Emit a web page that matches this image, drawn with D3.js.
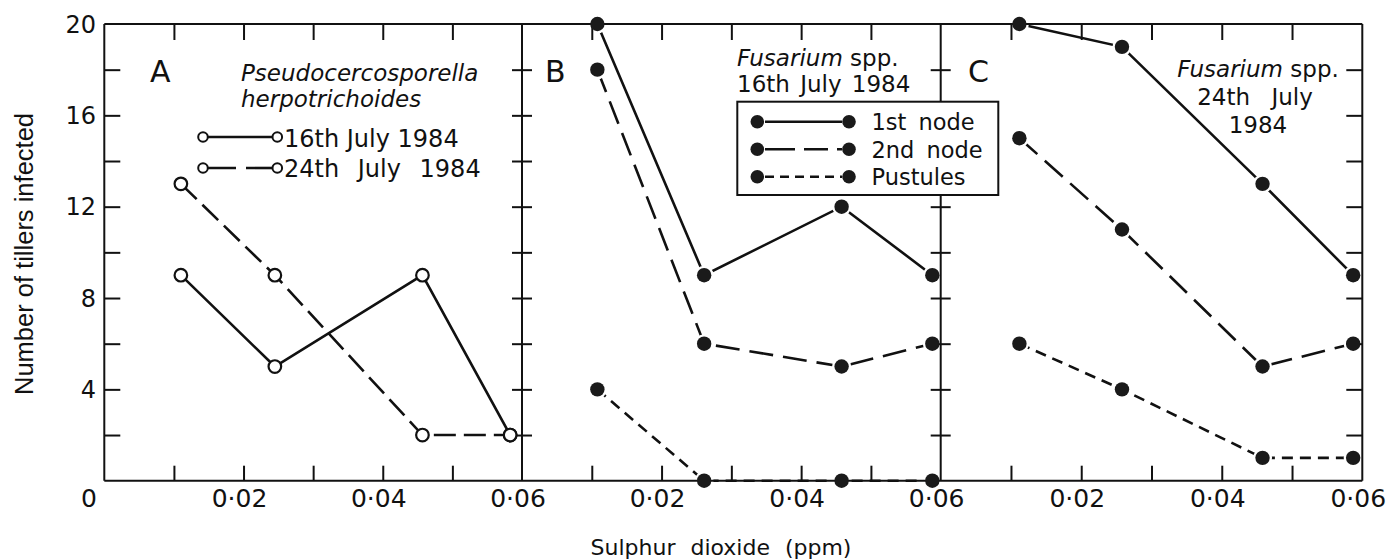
<!DOCTYPE html>
<html>
<head>
<meta charset="utf-8">
<script src="https://cdn.jsdelivr.net/npm/d3@7"></script>
<style>
  html, body { margin: 0; padding: 0; background: #fff; }
  svg { display: block; }
  text { font-family: "DejaVu Sans", sans-serif; fill: #111; }
</style>
</head>
<body>
<svg id="chart" width="1389" height="560"></svg>
<script>
// ---------------- DATA ----------------
const panelLetters = ["A", "B", "C"];
const xTickLabels = ["0·02", "0·04", "0·06"];
const xTickLabelValues = [0.02, 0.04, 0.06];
const yTickLabels = ["4", "8", "12", "16", "20"];
const yTickLabelValues = [4, 8, 12, 16, 20];
const yTickValues = [2, 4, 6, 8, 10, 12, 14, 16, 18];
const xTickValues = [0.01, 0.02, 0.03, 0.04, 0.05];

// Panel A: Pseudocercosporella herpotrichoides
const doseA = [0.011, 0.0245, 0.0457, 0.0583];
const pseudo16July = [9, 5, 9, 2];
const pseudo24July = [13, 9, 2, 2];

// Panel B: Fusarium spp. 16th July 1984
const doseB = [0.0108, 0.0261, 0.0458, 0.0588];
const fusB_1stNode = [20, 9, 12, 9];
const fusB_2ndNode = [18, 6, 5, 6];
const fusB_pustules = [4, 0, 0, 0];

// Panel C: Fusarium spp. 24th July 1984
const doseC = [0.0112, 0.0258, 0.0458, 0.0587];
const fusC_1stNode = [20, 19, 13, 9];
const fusC_2ndNode = [15, 11, 5, 6];
const fusC_pustules = [6, 4, 1, 1];

// ---------------- LAYOUT ----------------
const svg = d3.select("#chart");
const yTop = 24, yBottom = 480.7;
const panelRanges = [[104.3, 522], [522, 940.7], [940.7, 1362.3]];
const y = d3.scaleLinear().domain([0, 20]).range([yBottom, yTop]);
const xs = panelRanges.map(r => d3.scaleLinear().domain([0, 0.06]).range(r));

const LW = 2.6;
const dashLongA = "22,8";
const dashLong = "24,10";
const dashShort = "11,7";

svg.append("rect").attr("width", 1389).attr("height", 560).attr("fill", "#fff");

const gLines = svg.append("g");
const gHalo = svg.append("g");
const gFrame = svg.append("g");
const gMarks = svg.append("g");
const gText = svg.append("g");

function series(xScale, xs_, ys_, dash) {
  const pts = xs_.map((d, i) => [d, ys_[i]]);
  const line = d3.line().x(d => xScale(d[0])).y(d => y(d[1]));
  gLines.append("path").attr("d", line(pts))
    .attr("fill", "none").attr("stroke", "#111").attr("stroke-width", LW)
    .attr("stroke-dasharray", dash || null);
  return pts;
}
function openMarks(xScale, pts) {
  gMarks.selectAll(null).data(pts).enter().append("circle")
    .attr("cx", d => xScale(d[0])).attr("cy", d => y(d[1])).attr("r", 6.3)
    .attr("fill", "#fff").attr("stroke", "#111").attr("stroke-width", 2.2);
}
function filledMarks(xScale, pts) {
  gHalo.selectAll(null).data(pts).enter().append("circle")
    .attr("cx", d => xScale(d[0])).attr("cy", d => y(d[1])).attr("r", 9.5)
    .attr("fill", "#fff");
  gMarks.selectAll(null).data(pts).enter().append("circle")
    .attr("cx", d => xScale(d[0])).attr("cy", d => y(d[1])).attr("r", 7.2)
    .attr("fill", "#1a1a1a");
}

// Panel A
openMarks(xs[0], series(xs[0], doseA, pseudo16July, null));
openMarks(xs[0], series(xs[0], doseA, pseudo24July, dashLongA));
// Panel B
filledMarks(xs[1], series(xs[1], doseB, fusB_1stNode, null));
filledMarks(xs[1], series(xs[1], doseB, fusB_2ndNode, dashLong));
filledMarks(xs[1], series(xs[1], doseB, fusB_pustules, dashShort));
// Panel C
filledMarks(xs[2], series(xs[2], doseC, fusC_1stNode, null));
filledMarks(xs[2], series(xs[2], doseC, fusC_2ndNode, dashLong));
filledMarks(xs[2], series(xs[2], doseC, fusC_pustules, dashShort));

// ---------------- FRAME & TICKS ----------------
const FW = 2;
const x0 = panelRanges[0][0], x3 = panelRanges[2][1];
gFrame.append("line").attr("x1", x0).attr("x2", x3).attr("y1", yTop).attr("y2", yTop);
gFrame.append("line").attr("x1", x0).attr("x2", x3).attr("y1", yBottom).attr("y2", yBottom);
[x0, panelRanges[1][0], panelRanges[2][0], x3].forEach(xv => {
  gFrame.append("line").attr("x1", xv).attr("x2", xv).attr("y1", yTop).attr("y2", yBottom);
});

xs.forEach(xScale => {
  gFrame.append("g").attr("transform", `translate(0,${yBottom})`)
    .call(d3.axisTop(xScale).tickValues(xTickValues).tickSize(15).tickFormat(""))
    .call(g => g.select(".domain").remove());
  gFrame.append("g").attr("transform", `translate(0,${yTop})`)
    .call(d3.axisBottom(xScale).tickValues(xTickValues).tickSize(16).tickFormat(""))
    .call(g => g.select(".domain").remove());
});
gFrame.append("g").attr("transform", `translate(${x0},0)`)
  .call(d3.axisRight(y).tickValues(yTickValues).tickSize(16).tickFormat(""))
  .call(g => g.select(".domain").remove());
gFrame.append("g").attr("transform", `translate(${x3},0)`)
  .call(d3.axisLeft(y).tickValues(yTickValues).tickSize(16).tickFormat(""))
  .call(g => g.select(".domain").remove());
[panelRanges[1][0], panelRanges[2][0]].forEach(xv => {
  gFrame.append("g").attr("transform", `translate(${xv - 10},0)`)
    .call(d3.axisRight(y).tickValues(yTickValues).tickSize(20).tickFormat(""))
    .call(g => g.select(".domain").remove());
});
gFrame.selectAll("line").attr("stroke", "#111").attr("stroke-width", FW);

// ---------------- LABELS ----------------
gText.selectAll(null).data(yTickLabelValues).enter().append("text")
  .attr("x", 96).attr("y", d => y(d)).attr("dy", "0.36em")
  .attr("text-anchor", "end").attr("font-size", 24)
  .text((d, i) => yTickLabels[i]);
gText.append("text").attr("x", 89).attr("y", 507).attr("text-anchor", "middle")
  .attr("font-size", 25).text("0");
xs.forEach(xScale => {
  gText.selectAll(null).data(xTickLabelValues).enter().append("text")
    .attr("x", d => xScale(d) - 4).attr("y", 507).attr("text-anchor", "middle")
    .attr("font-size", 25).text((d, i) => xTickLabels[i]);
});
gText.append("text").attr("transform", "translate(33,254) rotate(-90)")
  .attr("text-anchor", "middle").attr("font-size", 25.5)
  .style("font-family", "'Liberation Sans', Arial, sans-serif")
  .text("Number of tillers infected");
gText.append("text").attr("x", 721).attr("y", 555).attr("text-anchor", "middle")
  .attr("font-size", 22).attr("word-spacing", 8)
  .text("Sulphur dioxide (ppm)");

const letterX = [150, 545, 968];
panelLetters.forEach((L, i) => {
  gText.append("text").attr("x", letterX[i]).attr("y", 82).attr("font-size", 30).text(L);
});

gText.append("text").attr("x", 241).attr("y", 81).attr("font-size", 23)
  .attr("font-style", "italic").text("Pseudocercosporella");
gText.append("text").attr("x", 241).attr("y", 107).attr("font-size", 23)
  .attr("font-style", "italic").text("herpotrichoides");

const legA = [
  { label: "16th July 1984", dash: null, cy: 137, base: 146.5, ws: 0 },
  { label: "24th July 1984", dash: "28,10", cy: 168, base: 177, ws: 11 }
];
legA.forEach(d => {
  gText.append("line").attr("x1", 208).attr("x2", 272.5).attr("y1", d.cy).attr("y2", d.cy)
    .attr("stroke", "#111").attr("stroke-width", LW).attr("stroke-dasharray", d.dash);
  [203, 277.3].forEach(cx => gText.append("circle").attr("cx", cx).attr("cy", d.cy).attr("r", 4.8)
    .attr("fill", "#fff").attr("stroke", "#111").attr("stroke-width", 2));
  gText.append("text").attr("x", 284).attr("y", d.base).attr("font-size", 24)
    .attr("word-spacing", d.ws).text(d.label);
});

const tB1 = gText.append("text").attr("x", 737).attr("y", 66).attr("font-size", 23);
tB1.append("tspan").attr("font-style", "italic").text("Fusarium");
tB1.append("tspan").text(" spp.");
gText.append("text").attr("x", 737).attr("y", 91.5).attr("font-size", 23)
  .attr("word-spacing", 3).text("16th July 1984");

gText.append("rect").attr("x", 737.3).attr("y", 101.7).attr("width", 261).attr("height", 93.3)
  .attr("fill", "#fff").attr("stroke", "#111").attr("stroke-width", FW);
const legB = [
  { label: "1st node", dash: null, cy: 121.7 },
  { label: "2nd node", dash: "30,9,24,9", cy: 149.3 },
  { label: "Pustules", dash: "9,6", cy: 176.7 }
];
legB.forEach(d => {
  gText.append("line").attr("x1", 765).attr("x2", 842).attr("y1", d.cy).attr("y2", d.cy)
    .attr("stroke", "#111").attr("stroke-width", LW).attr("stroke-dasharray", d.dash);
  [757.3, 849].forEach(cx => {
    gText.append("circle").attr("cx", cx).attr("cy", d.cy).attr("r", 6.8).attr("fill", "#1a1a1a");
  });
  gText.append("text").attr("x", 871.5).attr("y", d.cy + 8.3).attr("font-size", 22.5)
    .attr("word-spacing", 5).text(d.label);
});

const tC1 = gText.append("text").attr("x", 1258).attr("y", 77).attr("font-size", 23)
  .attr("text-anchor", "middle");
tC1.append("tspan").attr("font-style", "italic").text("Fusarium");
tC1.append("tspan").text(" spp.");
gText.append("text").attr("x", 1255).attr("y", 105).attr("font-size", 23)
  .attr("text-anchor", "middle").attr("word-spacing", 14).text("24th July");
gText.append("text").attr("x", 1258).attr("y", 133.3).attr("font-size", 23)
  .attr("text-anchor", "middle").text("1984");
</script>
</body>
</html>
